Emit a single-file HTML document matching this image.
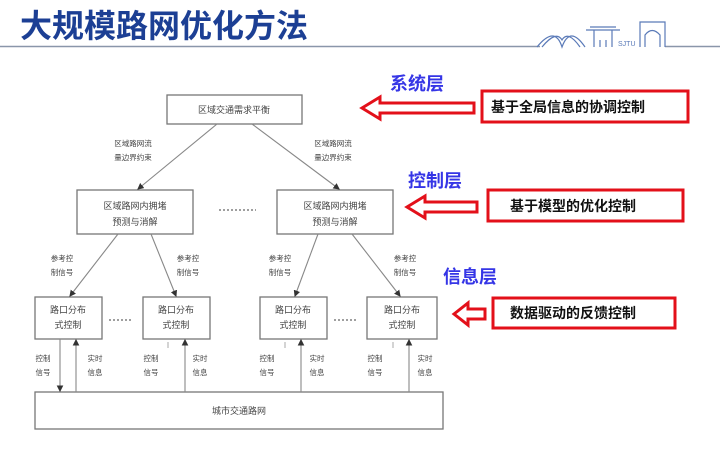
<!DOCTYPE html>
<html><head><meta charset="utf-8"><style>
html,body{margin:0;padding:0;background:#fff;}
body{width:720px;height:456px;overflow:hidden;}
svg text{font-family:"Liberation Sans","Noto Sans CJK SC",sans-serif;}
</style></head><body>
<svg width="720" height="456" viewBox="0 0 720 456" xmlns="http://www.w3.org/2000/svg">
<defs>
<marker id="a" markerWidth="6" markerHeight="6" refX="5" refY="3" orient="auto"><path d="M0,0 L6,3 L0,6 z" fill="#333"/></marker>
</defs>
<text x="20" y="37" font-size="32" font-weight="bold" fill="#1c3f94">大规模路网优化方法</text>
<line x1="0" y1="46.5" x2="540" y2="46.5" stroke="#8a96aa" stroke-width="1.5"/>
<line x1="665" y1="46.5" x2="720" y2="46.5" stroke="#8a96aa" stroke-width="1.5"/>
<g fill="none" stroke="#5a7ab8" stroke-width="1.2">
<path d="M537,47 Q555,25 562,47 Q570,25 585,47"/>
<path d="M542,47 Q556,30 562,40 Q568,30 580,47"/>
<path d="M586,30 L620,30 M590,27 L616,27 M594,30 L594,47 M612,30 L612,47 M600,40 L600,47 M606,40 L606,47"/>
<path d="M640,47 L640,22 L665,22 L665,47 M645,47 L645,35 Q652,26 660,35 L660,47"/>
</g>
<text x="618" y="46" font-size="7" fill="#5a7ab8">SJTU</text>

<g fill="#fff" stroke="#777" stroke-width="1.3">
<rect x="167" y="95" width="135" height="29"/>
<rect x="77" y="190" width="116" height="44"/>
<rect x="277" y="190" width="116" height="44"/>
<rect x="35" y="297" width="67" height="42"/>
<rect x="143" y="297" width="67" height="42"/>
<rect x="260" y="297" width="67" height="42"/>
<rect x="367" y="297" width="70" height="42"/>
<rect x="35" y="392" width="408" height="37"/>
</g>
<g stroke="#888" stroke-width="1.1" marker-end="url(#a)">
<line x1="217" y1="124" x2="138" y2="189"/>
<line x1="252" y1="124" x2="339" y2="189"/>
<line x1="118" y1="234" x2="70" y2="296"/>
<line x1="151" y1="234" x2="176" y2="296"/>
<line x1="318" y1="234" x2="295" y2="296"/>
<line x1="352" y1="234" x2="400" y2="296"/>
<line x1="60" y1="339" x2="60" y2="391"/>
<line x1="76" y1="392" x2="76" y2="340"/>
<line x1="185" y1="392" x2="185" y2="340"/>
<line x1="301" y1="392" x2="301" y2="340"/>
<line x1="409" y1="392" x2="409" y2="340"/>
</g>
<g stroke="#aaa" stroke-width="1"><line x1="168" y1="342" x2="168" y2="348"/><line x1="285" y1="342" x2="285" y2="348"/><line x1="393" y1="342" x2="393" y2="348"/></g>
<g fill="#444" font-size="9" text-anchor="middle">
<text x="234" y="113">区域交通需求平衡</text>
<text x="135" y="209">区域路网内拥堵</text><text x="135" y="225">预测与消解</text>
<text x="335" y="209">区域路网内拥堵</text><text x="335" y="225">预测与消解</text>
<text x="68" y="313">路口分布</text><text x="68" y="328">式控制</text>
<text x="176" y="313">路口分布</text><text x="176" y="328">式控制</text>
<text x="293" y="313">路口分布</text><text x="293" y="328">式控制</text>
<text x="402" y="313">路口分布</text><text x="402" y="328">式控制</text>
<text x="239" y="414">城市交通路网</text>
<text x="133" y="146" font-size="7.5">区域路网流</text><text x="133" y="160" font-size="7.5">量边界约束</text>
<text x="333" y="146" font-size="7.5">区域路网流</text><text x="333" y="160" font-size="7.5">量边界约束</text>
<text x="62" y="261" font-size="7.5">参考控</text><text x="62" y="275" font-size="7.5">制信号</text>
<text x="188" y="261" font-size="7.5">参考控</text><text x="188" y="275" font-size="7.5">制信号</text>
<text x="280" y="261" font-size="7.5">参考控</text><text x="280" y="275" font-size="7.5">制信号</text>
<text x="405" y="261" font-size="7.5">参考控</text><text x="405" y="275" font-size="7.5">制信号</text>
<text x="43" y="361" font-size="7.5">控制</text><text x="43" y="375" font-size="7.5">信号</text>
<text x="95" y="361" font-size="7.5">实时</text><text x="95" y="375" font-size="7.5">信息</text>
<text x="151" y="361" font-size="7.5">控制</text><text x="151" y="375" font-size="7.5">信号</text>
<text x="200" y="361" font-size="7.5">实时</text><text x="200" y="375" font-size="7.5">信息</text>
<text x="267" y="361" font-size="7.5">控制</text><text x="267" y="375" font-size="7.5">信号</text>
<text x="317" y="361" font-size="7.5">实时</text><text x="317" y="375" font-size="7.5">信息</text>
<text x="375" y="361" font-size="7.5">控制</text><text x="375" y="375" font-size="7.5">信号</text>
<text x="425" y="361" font-size="7.5">实时</text><text x="425" y="375" font-size="7.5">信息</text>
</g>
<g stroke="#666" stroke-width="1.2" stroke-dasharray="2,2"><line x1="219" y1="210" x2="256" y2="210"/><line x1="109" y1="320" x2="132" y2="320"/><line x1="334" y1="320" x2="357" y2="320"/></g>

<g font-weight="bold" fill="#3535e6" font-size="18">
<text x="390" y="90">系统层</text><text x="408" y="187">控制层</text><text x="443" y="283">信息层</text>
</g>
<g fill="#fff" stroke="#e3101a" stroke-width="3">
<path d="M362,108 L380,97 L380,103 L474,103 L474,113 L380,113 L380,119 Z"/>
<path d="M407,207 L425,196 L425,202 L477,202 L477,212 L425,212 L425,218 Z"/>
<path d="M454,314 L468,303 L468,309 L485,309 L485,319 L468,319 L468,325 Z"/>
<rect x="482" y="91" width="206" height="31"/>
<rect x="488" y="190" width="195" height="31"/>
<rect x="493" y="298" width="182" height="30"/>
</g>
<g font-weight="bold" fill="#111" font-size="14">
<text x="491" y="112">基于全局信息的协调控制</text>
<text x="510" y="211">基于模型的优化控制</text>
<text x="510" y="318">数据驱动的反馈控制</text>
</g>
</svg>
</body></html>
